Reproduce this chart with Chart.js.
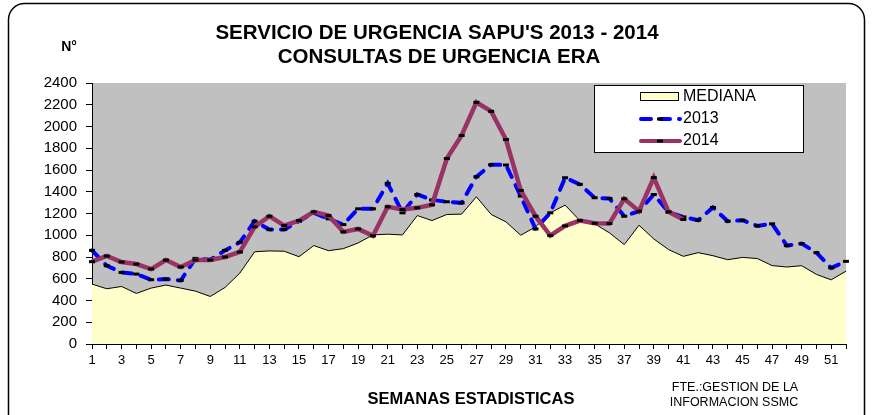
<!DOCTYPE html>
<html>
<head>
<meta charset="utf-8">
<script src="https://cdn.jsdelivr.net/npm/chart.js@4.4.1/dist/chart.umd.min.js"></script>
<style>
  html, body { margin: 0; padding: 0; background: #fff; }
  #wrap { width: 873px; height: 415px; }
</style>
</head>
<body>
<div id="wrap"><canvas id="chart" width="873" height="415"></canvas></div>
<script>
// semanas estadisticas
const weeks = [1, 2, 3, 4, 5, 6, 7, 8, 9, 10, 11, 12, 13, 14, 15, 16, 17, 18, 19, 20, 21, 22, 23, 24, 25, 26,
  27, 28, 29, 30, 31, 32, 33, 34, 35, 36, 37, 38, 39, 40, 41, 42, 43, 44, 45, 46, 47, 48, 49, 50, 51, 52];

const mediana = [551, 508, 529, 465, 514, 542, 514, 486, 437, 520, 652, 848, 856, 853, 803, 905, 858, 877, 929, 1003,
  1010, 1003, 1181, 1135, 1191, 1194, 1354, 1191, 1123, 1000, 1077, 1206, 1277, 1135, 1105, 1022, 914, 1092, 966, 868,
  806, 840, 812, 775, 796, 786, 721, 708, 720, 640, 590, 670];

const data2013 = [861, 720, 658, 643, 591, 597, 584, 787, 775, 861, 935, 1129, 1052, 1052, 1129, 1206, 1151, 1098, 1243, 1243,
  1477, 1206, 1375, 1325, 1308, 1298, 1538, 1649, 1646, 1360, 1058, 1206, 1529, 1468, 1345, 1338, 1175, 1221, 1375, 1212,
  1169, 1138, 1255, 1129, 1138, 1086, 1105, 905, 923, 840, 700, 760];

const data2014 = [757, 809, 754, 735, 689, 772, 708, 772, 772, 800, 846, 1077, 1175, 1089, 1135, 1215, 1181, 1031, 1058, 994,
  1262, 1237, 1252, 1280, 1705, 1917, 2222, 2139, 1880, 1412, 1175, 997, 1086, 1135, 1110, 1108, 1335, 1221, 1530, 1215,
  1145, null, null, null, null, null, null, null, null, null, null, null];

const yTicks = [0, 200, 400, 600, 800, 1000, 1200, 1400, 1600, 1800, 2000, 2200, 2400];

const FONT = 'Arial, "Liberation Sans", sans-serif';

// fondo blanco, marco redondeado y area gris
const backdrop = {
  id: 'backdrop',
  beforeDraw(chart) {
    const ctx = chart.ctx;
    const a = chart.chartArea;
    ctx.save();
    ctx.fillStyle = '#fff';
    ctx.fillRect(0, 0, chart.width, chart.height);
    ctx.strokeStyle = '#000';
    ctx.lineWidth = 1.5;
    ctx.beginPath();
    ctx.roundRect(8.5, 3.5, 856, 440, 16);
    ctx.stroke();
    ctx.fillStyle = '#C0C0C0';
    ctx.fillRect(a.left, a.top, a.right - a.left, a.bottom - a.top);
    ctx.restore();
  }
};

// titulos, leyenda y nota de fuente
const texts = {
  id: 'texts',
  afterDraw(chart) {
    const ctx = chart.ctx;
    ctx.save();
    ctx.fillStyle = '#000';
    ctx.textBaseline = 'middle';
    ctx.textAlign = 'center';
    ctx.font = 'bold 20.5px ' + FONT;
    ctx.fillText("SERVICIO DE URGENCIA SAPU'S 2013 - 2014", 437, 33);
    ctx.fillText('CONSULTAS DE URGENCIA ERA', 439, 57);
    ctx.font = 'bold 14px ' + FONT;
    ctx.fillText('N°', 69, 47);
    ctx.font = 'bold 16.5px ' + FONT;
    ctx.fillText('SEMANAS ESTADISTICAS', 471, 399);
    ctx.font = '12.5px ' + FONT;
    ctx.fillText('FTE.:GESTION DE LA', 735, 388);
    ctx.fillText('INFORMACION SSMC', 734, 403);

    // leyenda
    ctx.fillStyle = '#fff';
    ctx.fillRect(594.5, 85.5, 209, 67);
    ctx.strokeStyle = '#000';
    ctx.lineWidth = 1;
    ctx.strokeRect(594.5, 85.5, 209, 67);

    ctx.fillStyle = '#FFFFCC';
    ctx.fillRect(640.5, 92.5, 38, 8);
    ctx.strokeRect(640.5, 92.5, 38, 8);

    ctx.lineCap = 'round';
    ctx.lineWidth = 4;
    ctx.strokeStyle = '#0000FF';
    ctx.setLineDash([10, 9]);
    ctx.beginPath();
    ctx.moveTo(641, 119);
    ctx.lineTo(680, 119);
    ctx.stroke();
    ctx.setLineDash([]);
    ctx.strokeStyle = '#993366';
    ctx.beginPath();
    ctx.moveTo(641, 141);
    ctx.lineTo(680, 141);
    ctx.stroke();
    ctx.fillStyle = '#000';
    ctx.fillRect(657, 117.5, 6, 3);
    ctx.fillRect(657, 139.5, 6, 3);

    ctx.textAlign = 'left';
    ctx.font = '16px ' + FONT;
    ctx.fillText('MEDIANA', 683, 97);
    ctx.fillText('2013', 683, 119);
    ctx.fillText('2014', 683, 141);
    ctx.restore();
  }
};

const ctx = document.getElementById('chart').getContext('2d');
const chart = new Chart(ctx, {
  type: 'line',
  data: {
    labels: weeks,
    datasets: [
      {
        label: 'MEDIANA',
        data: mediana,
        borderColor: '#000',
        borderWidth: 1,
        backgroundColor: '#FFFFCC',
        fill: 'origin',
        pointRadius: 0,
        order: 3
      },
      {
        label: '2013',
        data: data2013,
        borderColor: '#0000FF',
        borderWidth: 4,
        borderDash: [10, 9],
        borderCapStyle: 'round',
        fill: false,
        pointStyle: 'line',
        pointRadius: 3,
        pointBorderColor: '#000',
        pointBorderWidth: 3,
        order: 2
      },
      {
        label: '2014',
        data: data2014,
        borderColor: '#993366',
        borderWidth: 4.5,
        fill: false,
        spanGaps: false,
        pointStyle: 'line',
        pointRadius: 3,
        pointBorderColor: '#000',
        pointBorderWidth: 3,
        order: 1
      }
    ]
  },
  options: {
    responsive: false,
    animation: false,
    layout: { padding: { left: 0, right: 27, top: 83, bottom: 46 } },
    elements: { line: { tension: 0 } },
    plugins: {
      legend: { display: false },
      title: { display: false },
      tooltip: { enabled: false }
    },
    scales: {
      x: {
        offset: false,
        grid: { drawOnChartArea: false, drawTicks: true, tickLength: 5, color: '#000' },
        border: { display: true, color: '#000', width: 1 },
        ticks: {
          autoSkip: false,
          maxRotation: 0,
          padding: 4,
          color: '#000',
          font: { size: 13, family: FONT },
          callback: function(value, index) { return index % 2 === 0 ? weeks[index] : ''; }
        },
        afterFit: function(scale) { scale.height = 25; }
      },
      y: {
        min: 0,
        max: 2400,
        afterBuildTicks: function(scale) { scale.ticks = yTicks.map(v => ({ value: v })); },
        grid: { drawOnChartArea: false, drawTicks: true, tickLength: 6, color: '#000' },
        border: { display: true, color: '#000', width: 1 },
        ticks: {
          padding: 9,
          color: '#000',
          font: { size: 15, family: FONT },
          callback: function(value) { return String(value); }
        },
        afterFit: function(scale) { scale.width = 92; }
      }
    }
  },
  plugins: [backdrop, texts]
});
</script>
</body>
</html>
